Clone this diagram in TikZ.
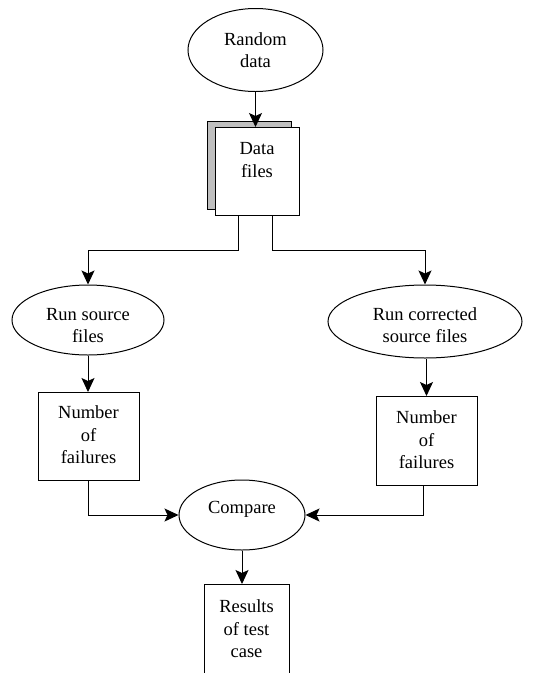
\documentclass[tikz,border=0pt]{standalone}
\usepackage{fontspec}
\setmainfont{Liberation Serif}
\usetikzlibrary{arrows.meta,shapes.geometric,shadows}

\begin{document}
\begin{tikzpicture}[x=1pt,y=-1pt,
  font=\fontsize{18.5}{22.5}\selectfont,
  every node/.style={align=center},
  oval/.style={ellipse, draw, line width=1pt, inner sep=0pt},
  store/.style={rectangle, draw, line width=1pt, fill=white, inner sep=0pt, anchor=north},
  stack/.style={copy shadow={shadow xshift=-8pt, shadow yshift=6pt, fill=black!25, draw=black, line width=1pt}},
  link/.style={line width=1pt, -{Stealth[length=14pt,width=13pt,inset=3pt]}}
]
\useasboundingbox (0,0) rectangle (548,673);
\clip (0,0) rectangle (548,673);

% processes and data stores (text height/depth are measured from the last line)
\node[oval, minimum width=135pt, minimum height=83pt, text height=40pt, text depth=5pt] (rd) at (255.5,50) {Random\\data};
\node[store, stack, minimum width=84pt, text height=49.5pt, text depth=38.5pt] (df) at (257,127) {Data\\files};
\node[oval, minimum width=152pt, minimum height=70pt, text height=47pt, text depth=2pt] (rs) at (88,320) {Run source\\files};
\node[oval, minimum width=194pt, minimum height=73pt, text height=45pt, text depth=3pt] (rc) at (425,321.5) {Run corrected\\source files};
\node[store, minimum width=101pt, text height=71pt, text depth=17pt] (nf1) at (88.5,392) {Number\\of\\failures};
\node[store, minimum width=101pt, text height=72pt, text depth=17pt] (nf2) at (426.5,396) {Number\\of\\failures};
\node[oval, minimum width=126pt, minimum height=70pt, text height=14pt, text depth=18pt] (cmp) at (242,515) {Compare};
\node[store, minimum width=85pt, text height=73pt, text depth=40pt] (res) at (246.5,584) {Results\\of test\\case};

% flows
\draw[link] (rd.south) -- (rd.south |- df.north);
\draw[link] ([xshift=-19pt]df.south) -- ++(0,34) -| (rs.north);
\draw[link] ([xshift=15pt]df.south) -- ++(0,34) -| (rc.north);
\draw[link] (rs.south) -- (rs.south |- nf1.north);
\draw[link] (nf2.north |- rc.south) -- (nf2.north);
\draw[link] (nf1.south) |- (cmp.west);
\draw[link] ([xshift=-3pt]nf2.south) |- (cmp.east);
\draw[link] (cmp.south) -- (cmp.south |- res.north);
\end{tikzpicture}
\end{document}
